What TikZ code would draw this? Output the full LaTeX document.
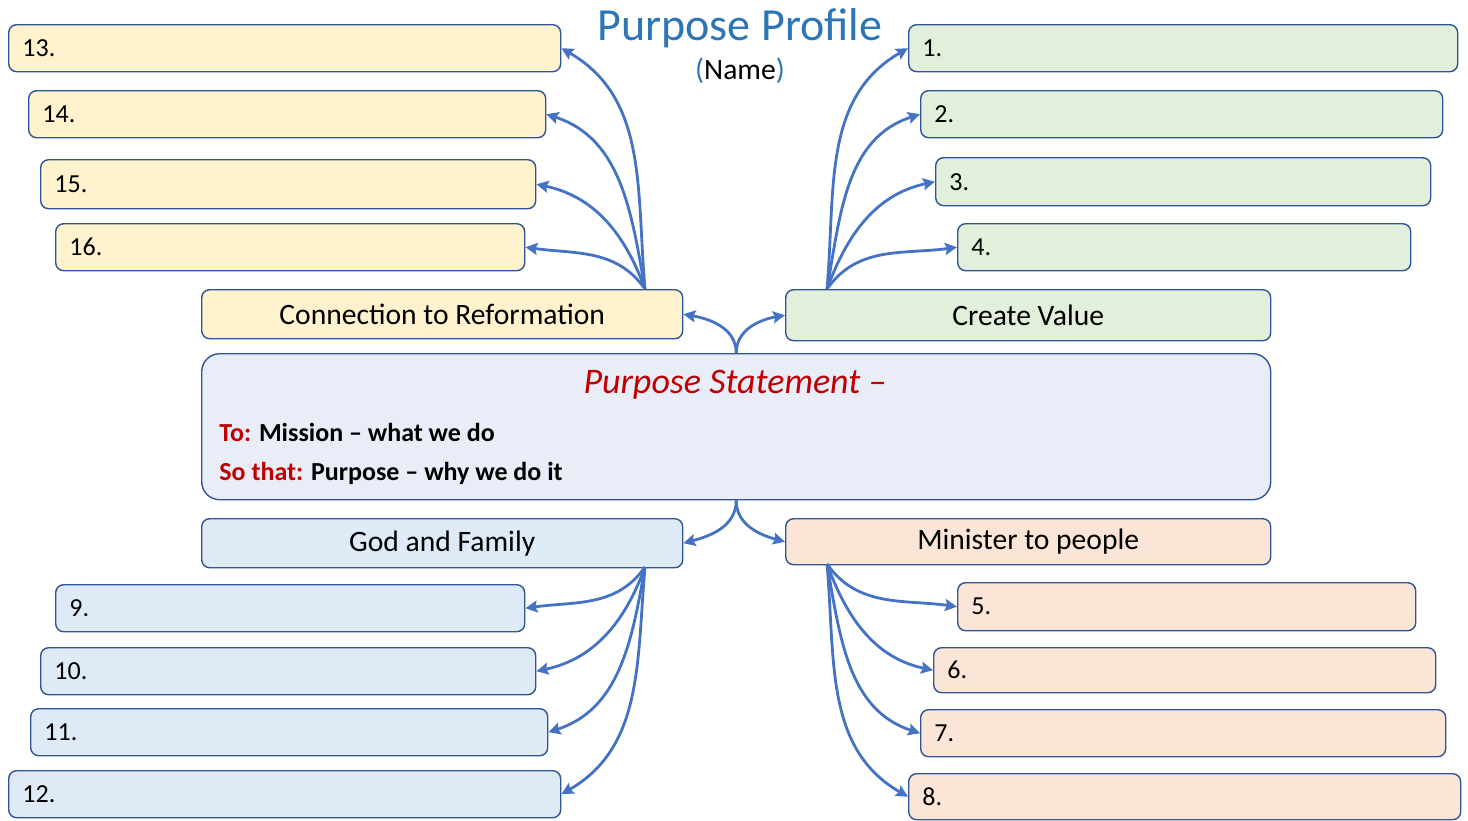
\documentclass[tikz,border=0pt]{standalone}
\usepackage{fontspec}
\setmainfont{Carlito}
\usetikzlibrary{arrows.meta}
\definecolor{bord}{HTML}{2F5597}
\definecolor{arr}{HTML}{4472C4}
\definecolor{titlec}{HTML}{2E75B6}
\definecolor{redc}{HTML}{C00000}
\definecolor{yelf}{HTML}{FFF2CC}
\definecolor{grnf}{HTML}{E2EFDA}
\definecolor{bluf}{HTML}{DEEBF7}
\definecolor{pchf}{HTML}{FBE5D6}
\definecolor{cenf}{HTML}{E9EDF7}
\tikzset{
  base/.style={draw=bord, line width=0.7pt, rounded corners=4pt, inner sep=0pt, anchor=north west},
  yel/.style={base, fill=yelf},
  grn/.style={base, fill=grnf},
  blu/.style={base, fill=bluf},
  pch/.style={base, fill=pchf},
  cen/.style={base, fill=cenf, rounded corners=9pt},
  lbl/.style={anchor=west, font=\fontsize{13}{15}\selectfont, inner sep=0pt},
  hdr/.style={font=\fontsize{14.8}{17}\selectfont, inner sep=0pt},
  con/.style={draw=arr, line width=1.4pt, -{Stealth[length=6pt,width=6pt,inset=1pt]}}
}
\newcommand\pbox[7]{%
  \node[#1, minimum width={(#5-#3)*0.5pt}, minimum height={(#6-#4)*0.5pt}] (#2) at (#3,#4) {};
  \node[lbl] (#2t) at ([xshift=7pt]#2.west) {#7};}
\newcommand\hdrbox[7]{%
  \node[#1, minimum width={(#5-#3)*0.5pt}, minimum height={(#6-#4)*0.5pt}] (#2) at (#3,#4) {};
  \node[hdr] (#2t) at (#2.center) {#7};}
\begin{document}
\begin{tikzpicture}[x=0.5pt,y=-0.5pt]
\useasboundingbox (0,0) rectangle (1468,820);
% title
\node[font=\fontsize{23}{26}\selectfont, text=titlec, inner sep=0pt] (title) at (740,28) {Purpose Profile};
\node[font=\fontsize{14.8}{17}\selectfont, inner sep=0pt] (name) at (740,71) {{\color{titlec}(}Name{\color{titlec})}};
% left yellow
\pbox{yel}{b13}{8}{24}{560}{71}{13.}
\pbox{yel}{b14}{28}{90}{545}{137}{14.}
\pbox{yel}{b15}{40}{159}{535}{208}{15.}
\pbox{yel}{b16}{55}{223}{524}{270}{16.}
% right green
\pbox{grn}{b1}{908}{24}{1457}{71}{1.}
\pbox{grn}{b2}{920}{90}{1442}{137}{2.}
\pbox{grn}{b3}{935}{157}{1430}{205}{3.}
\pbox{grn}{b4}{957}{223}{1410}{270}{4.}
% headers
\hdrbox{yel}{conn}{201}{289}{682}{338}{Connection to Reformation}
\hdrbox{grn}{cval}{785}{289}{1270}{340}{Create Value}
\hdrbox{blu}{god}{201}{518}{682}{567}{God and Family}
\hdrbox{pch}{mini}{785}{518}{1270}{564}{Minister to people}
% center
\node[cen, minimum width={1069*0.5pt}, minimum height={146*0.5pt}] (ctr) at (201,353) {};
\node[font=\fontsize{18}{20}\selectfont\itshape, text=redc, inner sep=0pt] (ps) at (735,385) {Purpose Statement –};
\node[anchor=west, font=\fontsize{13}{15}\selectfont\bfseries, inner sep=0pt] (to) at (219,432) {{\color{redc}To:} Mission – what we do};
\node[anchor=west, font=\fontsize{13}{15}\selectfont\bfseries, inner sep=0pt] (so) at (219,473) {{\color{redc}So that:} Purpose – why we do it};
% bottom blue
\pbox{blu}{b9}{55}{584}{524}{631}{9.}
\pbox{blu}{b10}{40}{647}{535}{694}{10.}
\pbox{blu}{b11}{30}{708}{547}{755}{11.}
\pbox{blu}{b12}{8}{770}{560}{817}{12.}
% bottom peach
\pbox{pch}{b5}{957}{582}{1415}{630}{5.}
\pbox{pch}{b6}{933}{647}{1435}{692}{6.}
\pbox{pch}{b7}{920}{709}{1445}{756}{7.}
\pbox{pch}{b8}{908}{773}{1460}{819}{8.}
% connector origins
\coordinate (ls) at (645,289);
\coordinate (rs) at (827,289);
\coordinate (lb) at (645,567);
\coordinate (rb) at (827,564);
% center connectors
\draw[con] (ctr.north) to[out=90,in=-10] (conn.east);
\draw[con] (ctr.north) to[out=90,in=190] (cval.west);
\draw[con] (ctr.south) to[out=-90,in=15] (god.east);
\draw[con] (ctr.south) to[out=-90,in=165] (mini.west);
% top left
\draw[con] (ls) to[out=95,in=-30] (b13.east);
\draw[con] (ls) to[out=100,in=-18] (b14.east);
\draw[con] (ls) to[out=110,in=-12] (b15.east);
\draw[con] (ls) to[out=125,in=-8] (b16.east);
% top right
\draw[con] (rs) to[out=85,in=-150] (b1.west);
\draw[con] (rs) to[out=80,in=-162] (b2.west);
\draw[con] (rs) to[out=70,in=-168] (b3.west);
\draw[con] (rs) to[out=55,in=-172] (b4.west);
% bottom left
\draw[con] (lb) to[out=-125,in=8] (b9.east);
\draw[con] (lb) to[out=-110,in=12] (b10.east);
\draw[con] (lb) to[out=-100,in=18] (b11.east);
\draw[con] (lb) to[out=-95,in=30] (b12.east);
% bottom right
\draw[con] (rb) to[out=-55,in=172] (b5.west);
\draw[con] (rb) to[out=-70,in=168] (b6.west);
\draw[con] (rb) to[out=-80,in=162] (b7.west);
\draw[con] (rb) to[out=-85,in=150] (b8.west);
\end{tikzpicture}
\end{document}
